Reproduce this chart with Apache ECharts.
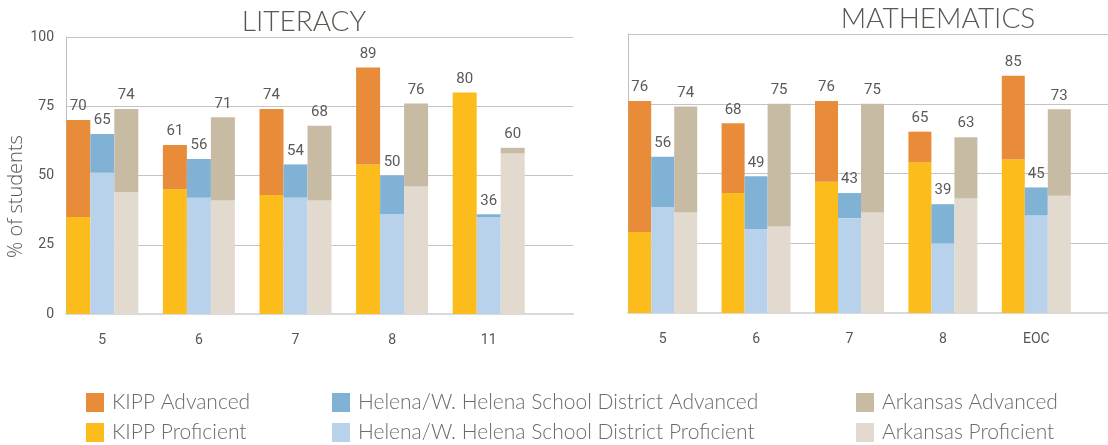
<!DOCTYPE html>
<html>
<head>
<meta charset="utf-8">
<script src="https://cdn.jsdelivr.net/npm/echarts@6/dist/echarts.min.js"></script>
<style>
  html, body { margin: 0; padding: 0; background: #fff; }
  #main { width: 1108px; height: 445px; }
</style>
</head>
<body>
<div id="main"></div>
<script>
// categories
var litCats = ['5', '6', '7', '8', '11'];
var mathCats = ['5', '6', '7', '8', 'EOC'];

// literacy, % of students
var litKippProf = [35, 45, 43, 54, 80];
var litKippAdv  = [35, 16, 31, 35, 0];
var litHelProf  = [51, 42, 42, 36, 35];
var litHelAdv   = [14, 14, 12, 14, 1];
var litArkProf  = [44, 41, 41, 46, 58];
var litArkAdv   = [30, 30, 27, 30, 2];

// mathematics, % of students
var mathKippProf = [29, 43, 47, 54, 55];
var mathKippAdv  = [47, 25, 29, 11, 30];
var mathHelProf  = [38, 30, 34, 25, 35];
var mathHelAdv   = [18, 19, 9, 14, 10];
var mathArkProf  = [36, 31, 36, 41, 42];
var mathArkAdv   = [38, 44, 39, 22, 31];

var yTicks = [0, 25, 50, 75, 100];

var colors = {
    'KIPP Advanced': '#e98c3a',
    'KIPP Proficient': '#fbbc1c',
    'Helena/W. Helena School District Advanced': '#7fb2d5',
    'Helena/W. Helena School District Proficient': '#b8d2eb',
    'Arkansas Advanced': '#c8bba3',
    'Arkansas Proficient': '#e2d9cf'
};

var myChart = echarts.init(document.getElementById('main'));

function pair(name, stack, prof, adv, axis, bw) {
    return [
        {
            name: name + ' Proficient',
            type: 'bar',
            stack: stack + axis,
            xAxisIndex: axis, yAxisIndex: axis,
            barWidth: bw, barGap: '0%',
            itemStyle: { color: colors[name + ' Proficient'] },
            data: prof
        },
        {
            name: name + ' Advanced',
            type: 'bar',
            stack: stack + axis,
            xAxisIndex: axis, yAxisIndex: axis,
            barWidth: bw, barGap: '0%',
            itemStyle: { color: colors[name + ' Advanced'] },
            label: {
                show: true,
                position: 'top',
                distance: 6,
                color: '#5a5a5a',
                fontSize: 15,
                fontFamily: 'Roboto',
                formatter: function (p) { return prof[p.dataIndex] + adv[p.dataIndex]; }
            },
            data: adv
        }
    ];
}

var hel = 'Helena/W. Helena School District';

var series = [].concat(
    pair('KIPP', 'k', litKippProf, litKippAdv, 1, 24),
    pair(hel, 'h', litHelProf, litHelAdv, 1, 24),
    pair('Arkansas', 'a', litArkProf, litArkAdv, 1, 24),
    pair('KIPP', 'k', mathKippProf, mathKippAdv, 3, 23),
    pair(hel, 'h', mathHelProf, mathHelAdv, 3, 23),
    pair('Arkansas', 'a', mathArkProf, mathArkAdv, 3, 23)
);

function frameX(i) {
    return {
        gridIndex: i, type: 'value', min: 0, max: 1,
        axisLine: { show: true, lineStyle: { color: '#d9d9d9', width: 2 } },
        axisTick: { show: false }, axisLabel: { show: false }, splitLine: { show: false }
    };
}
function barX(i, cats) {
    return {
        gridIndex: i, type: 'category', data: cats,
        axisLine: { show: false }, axisTick: { show: false },
        axisLabel: { color: '#555', fontSize: 14, fontFamily: 'Roboto', margin: 19 }
    };
}
function frameY(i, labels) {
    return {
        gridIndex: i, type: 'value', min: yTicks[0], max: yTicks[yTicks.length - 1], interval: 25,
        axisLine: { show: true, lineStyle: { color: '#bfbfbf' } },
        axisTick: { show: false },
        axisLabel: { show: labels, color: '#555', fontSize: 14, fontFamily: 'Roboto', margin: 12 },
        splitLine: { lineStyle: { color: '#c4c4c4' } }
    };
}
function barY(i) {
    return { gridIndex: i, type: 'value', min: 0, max: 100, show: false };
}

var yFrameL = frameY(0, true);
yFrameL.name = '% of students';
yFrameL.nameLocation = 'middle';
yFrameL.nameGap = 40;
yFrameL.nameTextStyle = { color: '#5a5a5a', fontSize: 20, fontFamily: 'Open Sans', fontWeight: 300, padding: [0, 42, 0, 0] };

var option = {
    animation: false,
    title: [
        { text: 'LITERACY', left: 299, top: 3, textAlign: 'center',
          textStyle: { color: '#5a5650', fontSize: 28, fontWeight: 300, fontFamily: 'Lato' } },
        { text: 'MATHEMATICS', left: 933, top: 0, textAlign: 'center',
          textStyle: { color: '#5a5650', fontSize: 28, fontWeight: 300, fontFamily: 'Lato' } }
    ],
    legend: [
        { data: ['KIPP Advanced', 'KIPP Proficient'] },
        { data: [hel + ' Advanced', hel + ' Proficient'] },
        { data: ['Arkansas Advanced', 'Arkansas Proficient'] }
    ].map(function (l, i) {
        l.orient = 'vertical';
        l.left = [86, 332, 856][i];
        l.top = 392;
        l.itemWidth = 18;
        l.itemHeight = 19;
        l.itemGap = 9;
        l.icon = 'rect';
        l.padding = 0;
        l.selectedMode = false;
        l.textStyle = { color: '#6b6b6b', fontSize: 21, fontFamily: 'Lato', fontWeight: 300, padding: [0, 0, 0, 3] };
        return l;
    }),
    grid: [
        { left: 66, top: 37, width: 507, height: 277 },
        { left: 54, top: 37, width: 483, height: 277 },
        { left: 628, top: 34, width: 480, height: 279 },
        { left: 616, top: 34, width: 467, height: 279 }
    ],
    xAxis: [frameX(0), barX(1, litCats), frameX(2), barX(3, mathCats)],
    yAxis: [yFrameL, barY(1), frameY(2, false), barY(3)],
    series: series
};

myChart.setOption(option);
</script>
</body>
</html>
